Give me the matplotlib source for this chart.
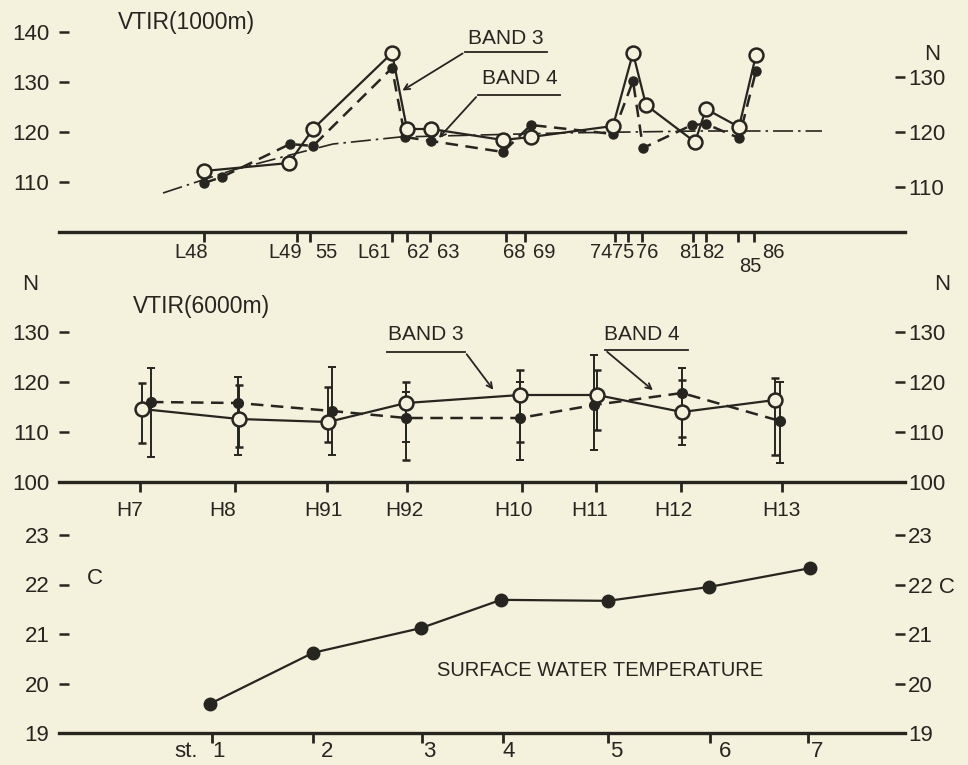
import matplotlib.pyplot as plt

plt.rcParams['font.family'] = ['Liberation Sans', 'DejaVu Sans']

INK = '#27251f'
PAPER = '#f4f1dd'

# ---------------- VTIR(1000m) ----------------
l_tick_x = [204, 297, 310, 392, 407, 430, 506, 525, 615, 628, 642, 693, 706, 738, 754]
l_tick_labels = ['L48', 'L49', '55', 'L61', '62', '63', '68', '69',
                 '74', '75', '76', '81', '82', '85', '86']
l_label_x = [191, 285, 326, 374, 418, 448, 514, 544, 601, 623, 647, 690, 713, 750, 773]
l_label_y = [96, 96, 96, 96, 96, 96, 96, 96, 96, 96, 96, 96, 96, 93, 96]

b3_1000_x = [204, 289, 313, 392, 407, 431, 503, 531, 613, 633, 646, 695, 706, 739, 756]
b3_1000 = [112.2, 113.8, 120.6, 135.8, 120.6, 120.6, 118.4, 119.0, 121.2, 135.8,
           125.4, 118.0, 124.6, 121.0, 135.4]
b4_1000_x = [204, 222, 290, 313, 392, 405, 431, 503, 531, 613, 633, 643, 692, 706, 739, 756]
b4_1000 = [109.8, 111.0, 117.6, 117.2, 132.8, 119.0, 118.2, 116.0, 121.4, 119.6,
           130.2, 116.8, 121.4, 121.6, 118.8, 132.2]
trend_x = [163, 233, 290, 333, 400, 480, 560, 700, 822]
trend_1000 = [107.8, 112.4, 115.4, 117.6, 119.0, 119.4, 119.8, 120.2, 120.2]

# ---------------- VTIR(6000m) ----------------
h_tick_x = [140, 235, 327, 407, 522, 596, 681, 782]
h_labels = ['H7', 'H8', 'H91', 'H92', 'H10', 'H11', 'H12', 'H13']
h_label_x = [130, 223, 323, 404, 513, 590, 673, 781]

b3_6000_x = [142, 239, 328, 406, 520, 597, 682, 775]
b3_6000 = [114.6, 112.6, 112.0, 115.8, 117.4, 117.4, 114.0, 116.4]
b3_lo = [107.8, 107.0, 108.0, 104.4, 108.0, 110.4, 109.0, 105.4]
b3_hi = [119.8, 119.4, 119.0, 120.0, 122.4, 122.4, 120.4, 120.8]

b4_6000_x = [151, 238, 332, 406, 520, 594, 682, 780]
b4_6000 = [116.0, 115.8, 114.2, 112.8, 112.8, 115.4, 117.8, 112.2]
b4_lo = [105.0, 105.4, 105.4, 108.0, 104.4, 106.4, 107.4, 103.8]
b4_hi = [122.8, 121.0, 123.0, 118.0, 120.0, 125.4, 122.8, 120.0]

# ---------------- surface water temperature ----------------
st_tick_x = [212, 313, 422, 503, 608, 710, 808]
st_labels = ['1', '2', '3', '4', '5', '6', '7']
st_label_x = [218, 327, 429, 509, 616, 725, 817]
st_x = [210, 313, 421, 501, 608, 709, 810]
sst = [19.59, 20.62, 21.12, 21.69, 21.67, 21.95, 22.33]

W, H = 968, 765
fig = plt.figure(figsize=(W / 100, H / 100), dpi=100, facecolor=PAPER)


def make_axes(bottom_px, top_px):
    ax = fig.add_axes([59 / W, (H - bottom_px) / H, 846 / W, (bottom_px - top_px) / H])
    ax.set_facecolor('none')
    ax.set_xlim(59, 905)
    for s in ['left', 'right', 'top']:
        ax.spines[s].set_visible(False)
    ax.spines['bottom'].set_linewidth(2.4)
    ax.spines['bottom'].set_color(INK)
    ax.tick_params(axis='x', direction='out', length=7, width=2, color=INK, labelbottom=False)
    ax.tick_params(axis='y', direction='in', length=7, width=1.8, color=INK,
                   labelsize=16, labelcolor=INK, pad=7)
    return ax


def right_axis(ax, ylim, ticks, labels):
    ax2 = ax.twinx()
    ax2.set_ylim(*ylim)
    for s in ax2.spines.values():
        s.set_visible(False)
    ax2.set_yticks(ticks, labels)
    ax2.tick_params(axis='y', direction='in', length=7, width=1.8, color=INK,
                    labelsize=16, labelcolor=INK, pad=2)
    return ax2


# ---- top panel ----
ax1 = make_axes(232, 22)
ax1.set_ylim(100, 142)
ax1.set_yticks([110, 120, 130, 140])
ax1.set_xticks(l_tick_x)
right_axis(ax1, (101.8, 140), [110, 120, 130], ['110', '120', '130'])

ax1.plot(trend_x, trend_1000, color=INK, lw=1.2, ls=(0, (12, 3, 1.5, 3)))
ax1.plot(b4_1000_x, b4_1000, color=INK, lw=1.8, ls=(0, (5, 3)),
         marker='o', ms=6.5, mfc=INK, mec=INK)
ax1.plot(b3_1000_x, b3_1000, color=INK, lw=1.6, marker='o', ms=10,
         mfc=PAPER, mec=INK, mew=1.8)
for x, y, lab in zip(l_label_x, l_label_y, l_tick_labels):
    ax1.text(x, y, lab, ha='center', va='center', fontsize=14.5, color=INK)

ax1.text(118, 142, 'VTIR(1000m)', ha='left', va='center', fontsize=16.5, color=INK)
ax1.text(932, 135.4, 'N', ha='center', va='center', fontsize=16, color=INK)

ax1.text(468, 138.8, 'BAND 3', ha='left', va='center', fontsize=15, color=INK)
ax1.plot([465, 547], [136, 136], color=INK, lw=1.3, clip_on=False)
ax1.annotate('', xy=(400, 128), xytext=(465, 136),
             arrowprops=dict(arrowstyle='->', color=INK, lw=1.3))
ax1.text(482, 130.8, 'BAND 4', ha='left', va='center', fontsize=15, color=INK)
ax1.plot([478, 560], [127.4, 127.4], color=INK, lw=1.3, clip_on=False)
ax1.annotate('', xy=(437, 118.4), xytext=(478, 127.4),
             arrowprops=dict(arrowstyle='->', color=INK, lw=1.3))

# ---- middle panel ----
ax2 = make_axes(482, 282)
ax2.set_ylim(100, 140)
ax2.set_yticks([100, 110, 120, 130])
ax2.set_xticks(h_tick_x)
right_axis(ax2, (100, 140), [100, 110, 120, 130], ['100', '110', '120', '130'])

ax2.errorbar(b4_6000_x, b4_6000,
             yerr=[[v - lo for v, lo in zip(b4_6000, b4_lo)],
                   [hi - v for v, hi in zip(b4_6000, b4_hi)]],
             color=INK, lw=1.8, ls=(0, (5, 3)), marker='o', ms=7, mfc=INK, mec=INK,
             ecolor=INK, elinewidth=1.4, capsize=3, capthick=1.4)
ax2.errorbar(b3_6000_x, b3_6000,
             yerr=[[v - lo for v, lo in zip(b3_6000, b3_lo)],
                   [hi - v for v, hi in zip(b3_6000, b3_hi)]],
             color=INK, lw=1.6, marker='o', ms=10, mfc=PAPER, mec=INK, mew=1.8,
             ecolor=INK, elinewidth=1.4, capsize=3, capthick=1.4)
for x, lab in zip(h_label_x, h_labels):
    ax2.text(x, 94.4, lab, ha='center', va='center', fontsize=15, color=INK)

ax2.text(133, 135, 'VTIR(6000m)', ha='left', va='center', fontsize=16.5, color=INK)
ax2.text(30, 139.6, 'N', ha='center', va='center', fontsize=16, color=INK)
ax2.text(942, 139.6, 'N', ha='center', va='center', fontsize=16, color=INK)

ax2.text(388, 129.4, 'BAND 3', ha='left', va='center', fontsize=15, color=INK)
ax2.plot([387, 465], [126, 126], color=INK, lw=1.3, clip_on=False)
ax2.annotate('', xy=(495, 118), xytext=(465, 126),
             arrowprops=dict(arrowstyle='->', color=INK, lw=1.3))
ax2.text(604, 129.4, 'BAND 4', ha='left', va='center', fontsize=15, color=INK)
ax2.plot([605, 688], [126.4, 126.4], color=INK, lw=1.3, clip_on=False)
ax2.annotate('', xy=(655, 118), xytext=(605, 126.4),
             arrowprops=dict(arrowstyle='->', color=INK, lw=1.3))

# ---- bottom panel ----
ax3 = make_axes(733, 520)
ax3.set_ylim(19, 19 + 213 / 49.5)
ax3.set_yticks([19, 20, 21, 22, 23])
ax3.set_xticks(st_tick_x)
right_axis(ax3, (19, 19 + 213 / 49.5), [19, 20, 21, 22, 23],
           ['19', '20', '21', '22 C', '23'])

ax3.plot(st_x, sst, color=INK, lw=1.6, marker='o', ms=9, mfc=INK, mec=INK)
for x, lab in zip(st_label_x, st_labels):
    ax3.text(x, 18.62, lab, ha='center', va='center', fontsize=16, color=INK)
ax3.text(186, 18.62, 'st.', ha='center', va='center', fontsize=16, color=INK)
ax3.text(95, 22.13, 'C', ha='center', va='center', fontsize=16, color=INK)
ax3.text(437, 20.27, 'SURFACE WATER TEMPERATURE', ha='left', va='center',
         fontsize=14.5, color=INK)

fig.savefig('out.png', dpi=100, facecolor=PAPER)
